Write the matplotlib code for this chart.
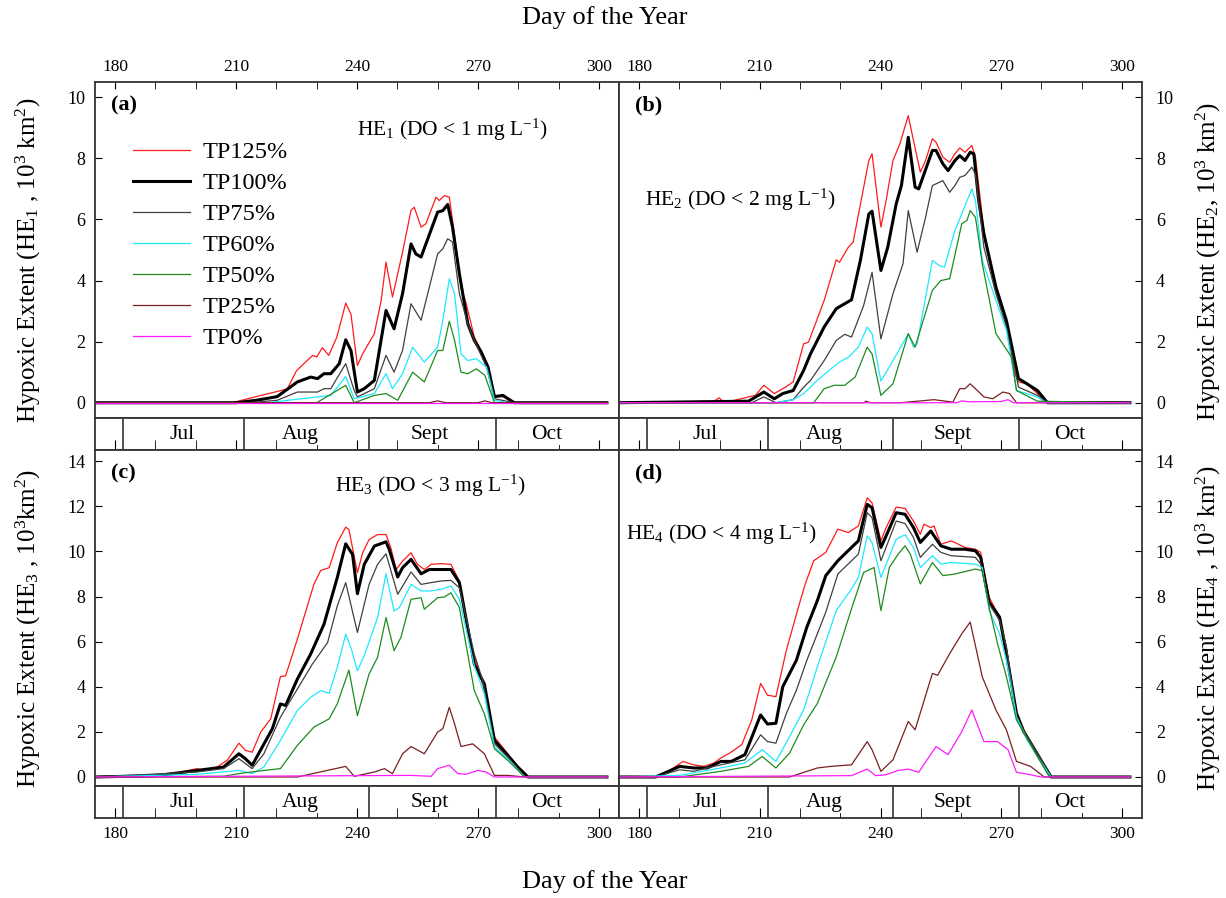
import matplotlib
matplotlib.use('Agg')
import matplotlib.pyplot as plt
from matplotlib.ticker import MultipleLocator

plt.rcParams['font.family'] = ['Liberation Serif', 'DejaVu Serif']
plt.rcParams['mathtext.fontset'] = 'custom'
plt.rcParams['mathtext.rm'] = 'Liberation Serif'
plt.rcParams['mathtext.it'] = 'Liberation Serif:italic'
plt.rcParams['mathtext.bf'] = 'Liberation Serif:bold'

# ---- data: day of year / hypoxic extent (10^3 km^2) ----
# HE1 (DO < 1 mg/L)
he1_tp125_day = [175, 209, 215, 222.7, 225, 229, 230, 231.4, 233, 235, 237.2, 238.5, 240.1, 241.4, 244.3, 246, 247.2, 248.8, 251.3, 253.4, 254.2, 255.9, 257.1, 259.6, 260.4, 261.7, 262.9, 264.2, 265.8, 267.1, 269.1, 271.2, 274.1, 276.2, 279, 302]
he1_tp125 = [0, 0, 0.2, 0.45, 1.05, 1.55, 1.5, 1.8, 1.55, 2.15, 3.26, 2.9, 1.22, 1.6, 2.26, 3.35, 4.6, 3.46, 4.93, 6.3, 6.4, 5.75, 5.86, 6.73, 6.62, 6.78, 6.73, 5.5, 3.78, 3.24, 2.15, 1.6, 0.2, 0.2, 0, 0]
he1_tp100_day = [175, 210, 215, 220.2, 225.2, 228.5, 230.2, 231.8, 233.5, 235.6, 237.2, 238.5, 240.1, 241.8, 244.3, 247.2, 249.2, 251.3, 253.4, 254.6, 255.9, 260, 261.3, 262.5, 263.7, 265.4, 267.5, 269.1, 270.8, 272.5, 274.1, 276.2, 279, 302]
he1_tp100 = [0, 0, 0.08, 0.2, 0.68, 0.84, 0.79, 0.95, 0.95, 1.28, 2.06, 1.71, 0.35, 0.46, 0.73, 3.02, 2.42, 3.57, 5.2, 4.87, 4.77, 6.24, 6.29, 6.49, 5.75, 4.22, 2.58, 2.04, 1.66, 1.17, 0.2, 0.24, 0, 0]
he1_tp75_day = [175, 213, 220.2, 225.2, 230.2, 231.8, 233.5, 237.2, 239.3, 240.1, 244.3, 247.2, 249.2, 251.3, 253.4, 255.9, 260, 261.3, 262.5, 263.7, 265.4, 267.5, 269.1, 272.5, 274.1, 279, 302]
he1_tp75 = [0, 0, 0.08, 0.35, 0.35, 0.46, 0.46, 1.28, 0.4, 0.19, 0.46, 1.55, 1.0, 1.71, 3.24, 2.7, 4.87, 5.04, 5.37, 5.26, 3.57, 2.58, 2.04, 1.06, 0.13, 0, 0]
he1_tp60_day = [175, 218, 224.2, 230.2, 233.5, 237.2, 239.3, 244.3, 247.2, 248.8, 251.3, 253.8, 256.7, 260, 261.3, 262.9, 264.2, 265.8, 267.5, 269.6, 272.1, 274.1, 277.5, 302]
he1_tp60 = [0, 0, 0.1, 0.19, 0.24, 0.86, 0.13, 0.3, 0.95, 0.46, 0.95, 1.82, 1.33, 1.82, 2.7, 4.06, 3.57, 1.6, 1.38, 1.44, 1.17, 0.08, 0, 0]
he1_tp50_day = [175, 230, 237.2, 239.3, 244.3, 247.2, 250.1, 253.8, 256.7, 260, 261.3, 262.9, 264.2, 265.8, 267.5, 269.6, 271.7, 274.1, 302]
he1_tp50 = [0, 0, 0.57, 0, 0.24, 0.3, 0.08, 1.0, 0.68, 1.71, 1.71, 2.67, 2.04, 1.0, 0.95, 1.11, 0.9, 0, 0]
he1_tp25_day = [175, 258, 260, 262, 270, 271.7, 273.5, 302]
he1_tp25 = [0, 0, 0.06, 0, 0, 0.06, 0, 0]
he1_tp0_day = [175, 302]
he1_tp0 = [0, 0]

# HE2 (DO < 2 mg/L)
he2_tp125_day = [175, 198.6, 199.9, 201.2, 207.2, 208.9, 211, 213.6, 216.6, 218.3, 220.9, 222.1, 226, 229, 229.8, 232, 233.2, 237.1, 237.9, 240.1, 241.4, 243.1, 244.8, 246.9, 248.2, 249.9, 251.2, 252.9, 253.8, 255.5, 257.2, 258.5, 259.7, 261, 262.7, 263.6, 265.7, 268.3, 271.3, 273.4, 274.3, 276.4, 279, 281.5, 302]
he2_tp125 = [0, 0.05, 0.16, 0, 0.19, 0.24, 0.57, 0.3, 0.53, 0.68, 1.93, 1.98, 3.35, 4.68, 4.6, 5.09, 5.26, 7.93, 8.15, 5.75, 6.62, 7.93, 8.47, 9.4, 8.58, 7.55, 7.93, 8.64, 8.53, 8.04, 7.87, 8.15, 8.34, 8.2, 8.42, 8.04, 5.64, 3.78, 2.58, 0.95, 0.68, 0.62, 0.3, 0, 0]
he2_tp100_day = [175, 207.2, 211, 213.6, 215.7, 218.3, 220.9, 222.6, 226, 229, 230.3, 232.8, 235, 237.1, 237.9, 240.1, 241.8, 243.9, 245.2, 246.9, 248.6, 249.5, 252.9, 253.8, 255.5, 256.8, 258.5, 259.7, 261, 262.3, 263.2, 264.4, 265.7, 268.7, 271.3, 274.3, 276.4, 279, 281.5, 302]
he2_tp100 = [0, 0.05, 0.35, 0.13, 0.3, 0.4, 1.06, 1.6, 2.48, 3.08, 3.18, 3.37, 4.66, 6.18, 6.27, 4.33, 5.09, 6.51, 7.11, 8.69, 7.06, 7.0, 8.26, 8.26, 7.82, 7.6, 7.93, 8.09, 7.93, 8.2, 8.15, 6.62, 5.53, 3.78, 2.69, 0.79, 0.62, 0.4, 0, 0]
he2_tp75_day = [175, 208, 211, 214, 218.3, 220.9, 222.6, 226, 229, 231.1, 232.8, 235.8, 237.9, 240.1, 243.1, 245.6, 246.9, 249.1, 251.2, 252.9, 255.5, 257.2, 258.5, 259.7, 261, 262.7, 263.6, 265.7, 268.7, 271.3, 274.3, 279, 281.5, 302]
he2_tp75 = [0, 0, 0.19, 0, 0.1, 0.51, 0.73, 1.38, 2.04, 2.24, 2.15, 3.18, 4.27, 2.09, 3.57, 4.55, 6.29, 4.93, 6.07, 7.11, 7.27, 6.89, 7.11, 7.38, 7.44, 7.71, 7.49, 5.09, 3.57, 2.48, 0.51, 0.24, 0, 0]
he2_tp60_day = [175, 214, 218.3, 220.9, 224.3, 227.7, 229.8, 232, 234.5, 236.7, 237.9, 240.1, 243.1, 246.9, 248.2, 249.1, 252.9, 254.6, 255.9, 258.5, 260.2, 262.7, 263.6, 265.3, 268.7, 271.3, 273.8, 279, 281.1, 302]
he2_tp60 = [0, 0, 0.1, 0.3, 0.73, 1.11, 1.33, 1.49, 1.82, 2.48, 2.26, 0.71, 1.38, 2.26, 1.82, 1.93, 4.66, 4.49, 4.44, 5.64, 6.18, 7.0, 6.62, 4.66, 3.35, 2.37, 0.4, 0.19, 0, 0]
he2_tp50_day = [175, 223.4, 226, 228.5, 231.1, 233.7, 236.7, 237.9, 240.1, 243.1, 246.9, 248.6, 252.9, 255, 257.2, 260.2, 261.5, 262.3, 263.6, 265.3, 268.7, 272.6, 273.8, 279, 302]
he2_tp50 = [0, 0, 0.46, 0.57, 0.57, 0.84, 1.82, 1.6, 0.24, 0.62, 2.26, 1.82, 3.68, 4.0, 4.06, 5.86, 5.97, 6.29, 6.07, 4.55, 2.26, 1.49, 0.4, 0.05, 0]
he2_tp25_day = [175, 236, 236.3, 237.5, 245, 253.3, 258, 259.7, 261, 262.3, 263.6, 265.7, 267.9, 270.4, 272.1, 273.8, 302]
he2_tp25 = [0, 0, 0.05, 0, 0, 0.1, 0.02, 0.46, 0.46, 0.62, 0.46, 0.19, 0.13, 0.35, 0.3, 0, 0]
he2_tp0_day = [175, 259, 260.2, 262, 270, 271.7, 273, 302]
he2_tp0 = [0, 0, 0.06, 0.03, 0.04, 0.1, 0, 0]

# HE3 (DO < 3 mg/L)
he3_tp125_day = [175, 186.2, 190.4, 195.3, 200.3, 202, 205.3, 207.8, 210.7, 212.3, 214, 216.1, 218.6, 221, 222.3, 225.2, 229.3, 231, 233.1, 235.1, 237.2, 238, 240.1, 241.4, 243, 245.1, 247.2, 248.4, 249.7, 251.3, 253.4, 255, 256.7, 258.4, 260.8, 263.3, 265.4, 268.7, 271.2, 274.1, 277.4, 279.9, 282.4, 302]
he3_tp125 = [0, 0, 0.12, 0.18, 0.37, 0.29, 0.44, 0.74, 1.5, 1.18, 1.1, 1.99, 2.58, 4.45, 4.49, 6.11, 8.54, 9.16, 9.28, 10.38, 11.08, 10.97, 9.06, 9.94, 10.53, 10.75, 10.75, 10.16, 9.2, 9.57, 9.94, 9.43, 9.2, 9.43, 9.46, 9.43, 8.69, 5.6, 4.12, 1.77, 1.03, 0.44, 0, 0]
he3_tp100_day = [175, 190.4, 200.3, 206.9, 210.7, 212.3, 214, 216.5, 219, 221, 222.3, 225.2, 228.5, 231.8, 235.1, 237.2, 238.9, 240.1, 241.8, 244.3, 247.2, 248, 250.1, 251.3, 253.4, 255.9, 257.9, 260.8, 263.3, 265.4, 269.1, 271.6, 274.1, 277.4, 279.9, 282.4, 302]
he3_tp100 = [0, 0.06, 0.29, 0.44, 1.03, 0.81, 0.52, 1.33, 2.14, 3.24, 3.17, 4.34, 5.45, 6.77, 8.84, 10.34, 9.87, 8.13, 9.43, 10.24, 10.43, 10.09, 8.87, 9.28, 9.65, 9.01, 9.2, 9.2, 9.2, 8.62, 5.01, 4.12, 1.62, 0.96, 0.44, 0, 0]
he3_tp75_day = [175, 200.3, 206.9, 210.7, 214, 216.9, 221, 225.2, 228.9, 232.7, 235.1, 237.2, 240.1, 243, 245.1, 247.2, 250.1, 253.4, 255.9, 258.4, 260.8, 263.3, 265.4, 269.1, 271.2, 274.1, 277.4, 281.6, 302]
he3_tp75 = [0, 0.22, 0.37, 0.81, 0.37, 1.03, 2.65, 3.9, 5.0, 5.96, 7.58, 8.62, 6.41, 8.54, 9.43, 9.9, 8.1, 9.09, 8.54, 8.62, 8.69, 8.72, 8.39, 5.45, 4.27, 1.47, 0.88, 0, 0]
he3_tp60_day = [175, 200.3, 210.7, 214, 216.9, 221, 225.2, 228.5, 231, 233.1, 235.1, 237.2, 238.5, 240.1, 241.8, 245.1, 247.2, 249.2, 250.5, 253.4, 255.9, 258.4, 260.8, 263.3, 265.4, 269.1, 271.6, 274.1, 277.4, 281.6, 302]
he3_tp60 = [0, 0.12, 0.29, 0.15, 0.44, 1.62, 2.95, 3.53, 3.83, 3.71, 4.86, 6.33, 5.74, 4.71, 5.38, 7.07, 9.01, 7.36, 7.51, 8.54, 8.25, 8.25, 8.32, 8.47, 7.88, 4.93, 3.68, 1.33, 0.81, 0, 0]
he3_tp50_day = [175, 206.9, 210.7, 216.9, 221, 225.2, 229.3, 233.1, 235.1, 238, 240.1, 243, 245.1, 247.2, 249.2, 250.9, 253.4, 255.9, 256.7, 260, 261.7, 263.3, 265.4, 269.1, 271.6, 274.1, 277.4, 281.6, 302]
he3_tp50 = [0, 0.03, 0.15, 0.29, 0.37, 1.4, 2.21, 2.58, 3.24, 4.74, 2.72, 4.57, 5.3, 7.07, 5.6, 6.19, 7.88, 7.95, 7.44, 7.95, 7.98, 8.17, 7.51, 3.83, 2.8, 1.25, 0.74, 0, 0]
he3_tp25_day = [175, 225.2, 237.2, 239.3, 244.3, 246.8, 248.8, 251.3, 253.4, 256.7, 260, 261.3, 262.9, 264.2, 265.8, 268.7, 271.6, 274.1, 277.4, 281.6, 302]
he3_tp25 = [0, 0, 0.47, 0.03, 0.22, 0.37, 0.15, 1.03, 1.35, 1.03, 1.99, 2.14, 3.09, 2.36, 1.35, 1.47, 1.03, 0.07, 0.07, 0, 0]
he3_tp0_day = [175, 253.4, 258.4, 260, 262.9, 265, 267.1, 270, 272, 274.1, 302]
he3_tp0 = [0, 0.07, 0.03, 0.37, 0.52, 0.15, 0.12, 0.29, 0.22, 0, 0]

# HE4 (DO < 4 mg/L)
he4_tp125_day = [175, 184.1, 186.7, 190.9, 193.5, 196.1, 198.6, 200.3, 202.5, 205.5, 208, 210.2, 211.9, 214, 216.6, 219.6, 221.3, 223.4, 226.4, 229.4, 232, 234.5, 236.7, 237.9, 240.1, 241.4, 243.9, 246.1, 248.2, 249.9, 250.8, 252.5, 253.3, 255, 257.6, 261, 263.6, 264.9, 267, 269.6, 271.3, 273.8, 275.6, 278.1, 280.3, 282.4, 302]
he4_tp125 = [0, 0, 0.18, 0.69, 0.54, 0.47, 0.62, 0.84, 1.06, 1.43, 2.53, 4.15, 3.63, 3.56, 5.62, 7.53, 8.56, 9.59, 9.96, 10.99, 10.84, 11.13, 12.38, 12.16, 10.47, 11.06, 11.97, 11.91, 11.35, 10.76, 11.21, 11.06, 11.13, 10.32, 10.47, 10.18, 10.1, 9.96, 7.97, 7.09, 5.76, 2.82, 2.09, 1.28, 0.62, 0, 0]
he4_tp100_day = [175, 184.1, 190.1, 193.5, 196.9, 200.3, 202.9, 206.3, 210.2, 211.9, 214, 215.7, 219.1, 221.7, 224.3, 226.4, 229.4, 232.8, 234.5, 236.7, 237.9, 240.1, 241.4, 243.9, 246.1, 248.2, 249.9, 252.5, 255, 257.6, 261, 263.6, 264.9, 267, 269.6, 271.3, 273.8, 275.6, 278.1, 280.3, 282.4, 302]
he4_tp100 = [0, 0, 0.47, 0.4, 0.4, 0.69, 0.69, 0.99, 2.75, 2.35, 2.38, 4.0, 5.18, 6.65, 7.82, 8.93, 9.59, 10.18, 10.47, 12.09, 11.94, 10.18, 10.69, 11.72, 11.65, 11.06, 10.4, 10.91, 10.25, 10.1, 10.1, 10.03, 9.74, 7.75, 7.09, 5.47, 2.82, 2.01, 1.28, 0.62, 0, 0]
he4_tp75_day = [175, 184.1, 190.1, 193.5, 200.3, 206.3, 210.2, 211.9, 214, 216.6, 219.1, 221.7, 224.3, 226.4, 229.4, 232.8, 234.5, 236.7, 237.9, 240.1, 243.9, 246.1, 248.2, 249.9, 252.9, 255, 257.6, 263.6, 264.9, 267, 269.6, 271.3, 273.8, 276.4, 279, 282.4, 302]
he4_tp75 = [0, 0, 0.32, 0.25, 0.54, 0.76, 1.87, 1.57, 1.5, 2.82, 3.85, 5.18, 6.35, 7.31, 9.0, 9.59, 9.88, 11.72, 11.5, 9.59, 11.35, 11.24, 10.62, 9.74, 10.32, 9.96, 9.81, 9.74, 9.44, 7.68, 6.94, 5.76, 2.68, 1.79, 1.06, 0, 0]
he4_tp60_day = [175, 190.1, 200.3, 206.3, 210.6, 214, 217.4, 220.9, 224.3, 229, 232.8, 234.5, 236.7, 237.9, 240.1, 243.9, 246.1, 248.2, 249.9, 252.9, 255, 257.6, 263.6, 265.3, 267, 269.6, 271.3, 273.8, 276.4, 279, 282.4, 302]
he4_tp60 = [0, 0.07, 0.4, 0.62, 1.21, 0.69, 1.79, 2.97, 4.88, 7.38, 8.34, 8.85, 10.69, 10.4, 8.85, 10.54, 10.74, 10.18, 9.29, 9.81, 9.44, 9.51, 9.44, 9.29, 7.38, 6.35, 5.18, 2.68, 1.65, 0.91, 0, 0]
he4_tp50_day = [175, 190.1, 200.3, 207.2, 210.6, 214, 217.4, 220.9, 224.3, 229, 232.8, 235.8, 238.4, 240.1, 242.2, 244.4, 246.1, 247.4, 249.9, 252.9, 255.5, 258.5, 263.6, 265.3, 267, 269.1, 271.3, 273.8, 276.4, 279, 282, 302]
he4_tp50 = [0, 0, 0.25, 0.47, 0.91, 0.4, 1.06, 2.31, 3.26, 5.32, 7.46, 9.07, 9.29, 7.38, 9.29, 9.88, 10.25, 9.88, 8.56, 9.51, 8.93, 9.0, 9.22, 9.15, 7.53, 5.91, 4.44, 2.53, 1.72, 0.91, 0, 0]
he4_tp25_day = [175, 217.4, 224.3, 227.7, 232.8, 236.7, 237.9, 240.1, 243.1, 246.9, 248.6, 252.9, 254.2, 257.2, 260.2, 262.3, 265.3, 268.7, 271.3, 273.8, 277.3, 280.7, 302]
he4_tp25 = [0, 0, 0.4, 0.47, 0.54, 1.57, 1.21, 0.25, 0.76, 2.46, 2.09, 4.59, 4.51, 5.47, 6.35, 6.87, 4.44, 2.97, 2.09, 0.69, 0.47, 0, 0]
he4_tp0_day = [175, 232.8, 236.7, 238.8, 241.4, 244.4, 246.9, 249.5, 253.8, 256.8, 260.2, 262.7, 265.7, 269.1, 271.7, 273.8, 277.3, 279.8, 302]
he4_tp0 = [0, 0.06, 0.35, 0.06, 0.1, 0.29, 0.35, 0.21, 1.35, 0.99, 2.01, 2.97, 1.57, 1.57, 1.21, 0.21, 0.1, 0, 0]

scenario_labels = ['TP125%', 'TP100%', 'TP75%', 'TP60%', 'TP50%', 'TP25%', 'TP0%']
scenario_colors = ['#ff1a1a', '#000000', '#404040', '#1ee8ff', '#1f8a1f', '#7a1f1f', '#ff1aff']
scenario_widths = [0.9, 2.2, 0.9, 0.9, 0.9, 0.9, 0.9]

month_names = ['Jul', 'Aug', 'Sept', 'Oct']
month_edges = [182, 212, 243, 274.5]
month_centers = [196.5, 226, 258, 287]

# ---- layout (pixel boxes on a 1226x898 canvas) ----
W, H = 1226, 898
fig = plt.figure(figsize=(W / 100, H / 100), dpi=100)


def add_box(left, top, width, height):
    return fig.add_axes([left / W, 1 - (top + height) / H, width / W, height / H])


spine_col = '#333333'
panels = [
    dict(tag='(a)', col=(95, 524), row=(82, 336), side='left', top=True, ymax=10,
         ylim=(-0.5, 10.5), curves=[(he1_tp125_day, he1_tp125), (he1_tp100_day, he1_tp100),
                                    (he1_tp75_day, he1_tp75), (he1_tp60_day, he1_tp60),
                                    (he1_tp50_day, he1_tp50), (he1_tp25_day, he1_tp25),
                                    (he1_tp0_day, he1_tp0)],
         note=r'HE$_\mathregular{1}$ (DO < 1 mg L$^{\mathregular{-1}}$)', note_xy=(0.5, 0.857),
         ylabel=r'Hypoxic Extent (HE$_\mathregular{1}$ , 10$^\mathregular{3}$ km$^\mathregular{2}$)',
         label_c=260),
    dict(tag='(b)', col=(619, 523), row=(82, 336), side='right', top=True, ymax=10,
         ylim=(-0.5, 10.5), curves=[(he2_tp125_day, he2_tp125), (he2_tp100_day, he2_tp100),
                                    (he2_tp75_day, he2_tp75), (he2_tp60_day, he2_tp60),
                                    (he2_tp50_day, he2_tp50), (he2_tp25_day, he2_tp25),
                                    (he2_tp0_day, he2_tp0)],
         note=r'HE$_\mathregular{2}$ (DO < 2 mg L$^{\mathregular{-1}}$)', note_xy=(0.049, 0.65),
         ylabel=r'Hypoxic Extent (HE$_\mathregular{2}$, 10$^\mathregular{3}$ km$^\mathregular{2}$)',
         label_c=261),
    dict(tag='(c)', col=(95, 524), row=(450, 336), side='left', top=False, ymax=14,
         ylim=(-0.4, 14.5), curves=[(he3_tp125_day, he3_tp125), (he3_tp100_day, he3_tp100),
                                    (he3_tp75_day, he3_tp75), (he3_tp60_day, he3_tp60),
                                    (he3_tp50_day, he3_tp50), (he3_tp25_day, he3_tp25),
                                    (he3_tp0_day, he3_tp0)],
         note=r'HE$_\mathregular{3}$ (DO < 3 mg L$^{\mathregular{-1}}$)', note_xy=(0.458, 0.893),
         ylabel=r'Hypoxic Extent (HE$_\mathregular{3}$ , 10$^\mathregular{3}$km$^\mathregular{2}$)',
         label_c=628),
    dict(tag='(d)', col=(619, 523), row=(450, 336), side='right', top=False, ymax=14,
         ylim=(-0.4, 14.5), curves=[(he4_tp125_day, he4_tp125), (he4_tp100_day, he4_tp100),
                                    (he4_tp75_day, he4_tp75), (he4_tp60_day, he4_tp60),
                                    (he4_tp50_day, he4_tp50), (he4_tp25_day, he4_tp25),
                                    (he4_tp0_day, he4_tp0)],
         note=r'HE$_\mathregular{4}$ (DO < 4 mg L$^{\mathregular{-1}}$)', note_xy=(0.013, 0.75),
         ylabel=r'Hypoxic Extent (HE$_\mathregular{4}$ , 10$^\mathregular{3}$ km$^\mathregular{2}$)',
         label_c=628),
]

strip_h = 32

for p in panels:
    left, width = p['col']
    top, height = p['row']
    ax = add_box(left, top, width, height)
    strip = add_box(left, top + height, width, strip_h)

    for (d, v), lab, c, lw in zip(p['curves'], scenario_labels, scenario_colors, scenario_widths):
        ax.plot(d, v, color=c, lw=lw, label=lab)

    ax.set_xlim(175, 305)
    ax.set_ylim(*p['ylim'])
    ax.set_yticks(range(0, p['ymax'] + 1, 2))
    ax.xaxis.set_major_locator(MultipleLocator(30))
    ax.xaxis.set_minor_locator(MultipleLocator(10))
    if p['top']:
        ax.tick_params(axis='x', which='both', top=True, bottom=False, labeltop=True,
                       labelbottom=False, direction='in', length=5, labelsize=12.5, pad=5)
    else:
        ax.tick_params(axis='x', which='both', top=False, bottom=False, labeltop=False,
                       labelbottom=False)
    if p['side'] == 'left':
        ax.tick_params(axis='y', left=True, right=False, labelleft=True, labelright=False,
                       direction='in', length=5, labelsize=13, pad=7)
    else:
        ax.tick_params(axis='y', left=False, right=True, labelleft=False, labelright=True,
                       direction='in', length=5, labelsize=13, pad=10)

    ax.text(0.03, 0.93, p['tag'], transform=ax.transAxes, fontsize=16, fontweight='bold',
            ha='left', va='center')
    ax.text(p['note_xy'][0], p['note_xy'][1], p['note'], transform=ax.transAxes,
            fontsize=15.5, ha='left', va='center')

    # month strip under each panel
    strip.set_xlim(175, 305)
    strip.set_ylim(0, 1)
    strip.set_yticks([])
    strip.xaxis.set_major_locator(MultipleLocator(30))
    strip.xaxis.set_minor_locator(MultipleLocator(10))
    strip.tick_params(axis='x', which='both', direction='in', length=7, bottom=True, top=False,
                      labelbottom=not p['top'], labelsize=12.5, pad=6)
    for edge in month_edges:
        strip.axvline(edge, color=spine_col, lw=1.2)
    for name, cx in zip(month_names, month_centers):
        strip.text(cx, 0.48, name, ha='center', va='center', fontsize=15.5,
                   bbox=dict(fc='white', ec='none', pad=0.3))

    for a in (ax, strip):
        for s in a.spines.values():
            s.set_color(spine_col)
            s.set_linewidth(1.3)

    # y label
    label_y = 1 - p['label_c'] / H
    label_x = 28 if p['side'] == 'left' else 1208
    fig.text(label_x / W, label_y, p['ylabel'], rotation=90, ha='center', va='center',
             fontsize=18)

    if p['tag'] == '(a)':
        ax.legend(loc='upper left', bbox_to_anchor=(0.0725, 0.824), frameon=False,
                  fontsize=17.5, handlelength=2.35, handletextpad=0.53, labelspacing=0.37,
                  borderaxespad=0, borderpad=0)

fig.text(605 / W, 1 - 18 / H, 'Day of the Year', ha='center', va='center', fontsize=19)
fig.text(605 / W, 1 - 882 / H, 'Day of the Year', ha='center', va='center', fontsize=19)

fig.savefig('out.png', dpi=100)
